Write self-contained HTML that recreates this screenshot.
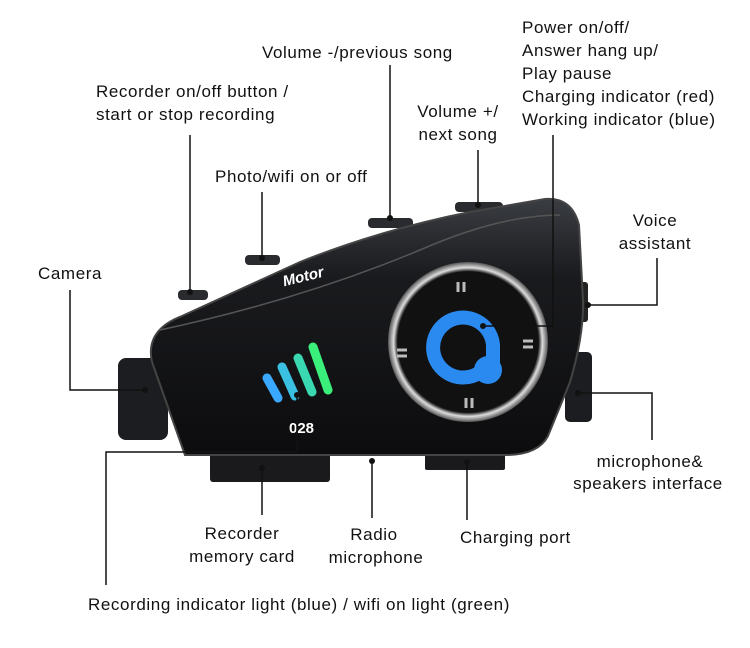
<!DOCTYPE html>
<html><head><meta charset="utf-8"><style>
html,body{margin:0;padding:0;background:#fff;}
svg{display:block;}
text{font-family:"Liberation Sans",Arial,sans-serif;font-size:17px;letter-spacing:0.6px;fill:#111;}
text.m{text-anchor:middle;}
</style></head><body>
<svg width="750" height="648" viewBox="0 0 750 648" xmlns="http://www.w3.org/2000/svg">
<defs>
<linearGradient id="bg" x1="0" y1="0" x2="0" y2="1"><stop offset="0" stop-color="#3a3d42"/><stop offset="0.3" stop-color="#1a1b1e"/><stop offset="1" stop-color="#0c0c0e"/></linearGradient>
<radialGradient id="ring" cx="0.5" cy="0.5" r="0.5"><stop offset="0.88" stop-color="#111"/><stop offset="0.93" stop-color="#ddd"/><stop offset="1" stop-color="#555"/></radialGradient>
</defs>
<rect x="210" y="448" width="120" height="34" rx="3" fill="#1a1a1c"/>
<rect x="425" y="452" width="80" height="18" rx="2" fill="#1a1a1c"/>
<rect x="118" y="358" width="50" height="82" rx="8" fill="#1c1d20"/>
<rect x="565" y="352" width="27" height="70" rx="5" fill="#1c1d20"/>
<rect x="578" y="282" width="10" height="40" rx="3" fill="#222"/>
<rect x="178" y="290" width="30" height="10" rx="4" fill="#2a2b2e"/>
<rect x="245" y="255" width="35" height="10" rx="4" fill="#2a2b2e"/>
<rect x="368" y="218" width="45" height="10" rx="4" fill="#2a2b2e"/>
<rect x="455" y="202" width="48" height="10" rx="4" fill="#2a2b2e"/>
<path d="M185,455 L152,362 Q145,330 182,316 L300,262 Q380,230 470,212 L545,199 Q572,197 579,225 L583,300 Q584,335 570,382 L548,436 Q538,455 505,455 Z" fill="url(#bg)" stroke="#444" stroke-width="2"/>
<path d="M160,330 Q300,300 420,250 Q500,215 560,215" fill="none" stroke="#555" stroke-width="1.5"/>
<text x="282" y="281" transform="rotate(-14 305 275)" style="font-size:15px;letter-spacing:0;font-weight:bold;font-style:italic;fill:#fff">Motor</text>
<g stroke-linecap="round" stroke-width="9" fill="none">
<line x1="267" y1="378" x2="278" y2="398" stroke="#3aa8ff"/>
<line x1="282" y1="367" x2="295" y2="396" stroke="#3ac0e0"/>
<line x1="298" y1="358" x2="312" y2="392" stroke="#3ad8b0"/>
<line x1="313" y1="347" x2="328" y2="390" stroke="#3aef7a"/>
</g>
<text x="289" y="433" style="font-size:15px;letter-spacing:0;font-weight:bold;fill:#fff">028</text>
<circle cx="468" cy="342" r="80" fill="url(#ring)"/>
<g stroke="#bbb" stroke-width="3">
<line x1="458" y1="282" x2="458" y2="292"/><line x1="464" y1="282" x2="464" y2="292"/>
<line x1="466" y1="408" x2="466" y2="398"/><line x1="472" y1="408" x2="472" y2="398"/>
<line x1="397" y1="350" x2="407" y2="350"/><line x1="397" y1="356" x2="407" y2="356"/>
<line x1="523" y1="341" x2="533" y2="341"/><line x1="523" y1="347" x2="533" y2="347"/>
</g>
<path d="M483,370 A30,30 0 1 1 493,345 L493,370 Z" fill="none" stroke="#2a8af0" stroke-width="14"/>
<circle cx="488" cy="370" r="14" fill="#2a8af0"/>
<g stroke="#111" stroke-width="1.5" fill="none">
<polyline points="390,65 390,218"/>
<polyline points="190,135 190,292"/>
<polyline points="262,192 262,258"/>
<polyline points="478,150 478,205"/>
<polyline points="553,135 553,326 483,326"/>
<polyline points="657,258 657,305 588,305"/>
<polyline points="70,290 70,390 145,390"/>
<polyline points="652,440 652,393 578,393"/>
<polyline points="262,468 262,515"/>
<polyline points="372,461 372,518"/>
<polyline points="467,462 467,520"/>
<polyline points="106,585 106,452 297,452 297,395"/>
</g>
<g fill="#111">
<circle cx="390" cy="218" r="3"/><circle cx="190" cy="292" r="3"/><circle cx="262" cy="258" r="3"/>
<circle cx="478" cy="205" r="3"/><circle cx="483" cy="326" r="3"/><circle cx="588" cy="305" r="3"/>
<circle cx="145" cy="390" r="3"/><circle cx="578" cy="393" r="3"/><circle cx="262" cy="468" r="3"/>
<circle cx="372" cy="461" r="3"/><circle cx="467" cy="462" r="3"/><circle cx="297" cy="395" r="3"/>
</g>
<text x="262" y="58">Volume -/previous song</text>
<text x="96" y="97">Recorder on/off button /</text>
<text x="96" y="120">start or stop recording</text>
<text x="215" y="182">Photo/wifi on or off</text>
<text class="m" x="458" y="117">Volume +/</text>
<text class="m" x="458" y="140">next song</text>
<text x="522" y="33">Power on/off/</text>
<text x="522" y="56">Answer hang up/</text>
<text x="522" y="79">Play pause</text>
<text x="522" y="102">Charging indicator (red)</text>
<text x="522" y="125">Working indicator (blue)</text>
<text class="m" x="655" y="226">Voice</text>
<text class="m" x="655" y="249">assistant</text>
<text x="38" y="279">Camera</text>
<text class="m" x="650" y="467">microphone&amp;</text>
<text class="m" x="648" y="489">speakers interface</text>
<text class="m" x="242" y="539">Recorder</text>
<text class="m" x="242" y="562">memory card</text>
<text class="m" x="374" y="540">Radio</text>
<text class="m" x="376" y="563">microphone</text>
<text x="460" y="543">Charging port</text>
<text x="88" y="610">Recording indicator light (blue) / wifi on light (green)</text>
</svg>
</body></html>
